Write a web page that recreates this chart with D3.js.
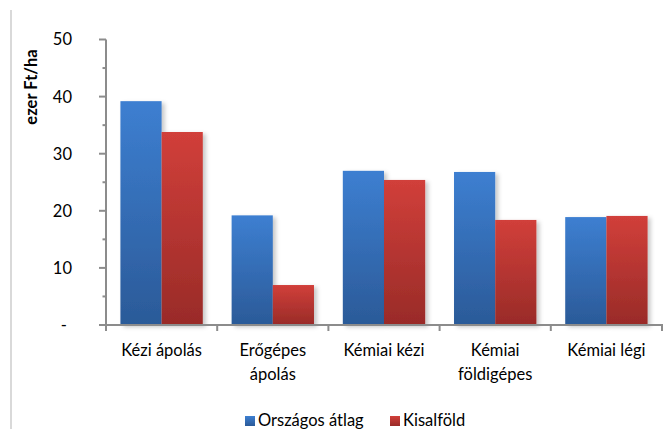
<!DOCTYPE html>
<html><head><meta charset="utf-8">
<script src="https://cdn.jsdelivr.net/npm/d3@7"></script>
<style>body{margin:0;background:#fff}svg{display:block}text{font-family:Lato,"Open Sans",sans-serif;fill:#000}</style>
</head><body>
<svg id="c" width="664" height="429"></svg>
<script>
const categories = [["Kézi ápolás"], ["Erőgépes", "ápolás"], ["Kémiai kézi"], ["Kémiai", "földigépes"], ["Kémiai légi"]];
const seriesNames = ["Országos átlag", "Kisalföld"];
const orszagos = [39.2, 19.2, 27.0, 26.8, 18.9];
const kisalfold = [33.8, 7.0, 25.4, 18.4, 19.1];
const yTicks = [0, 10, 20, 30, 40, 50];
const yTickLabels = ["-", "10", "20", "30", "40", "50"];

const svg = d3.select("#c");
const defs = svg.append("defs");
const grads = [["#3d7fd1", "#2b5a98"], ["#d13f3a", "#992b28"]];
grads.forEach((g, i) => {
  const lg = defs.append("linearGradient").attr("id", "g" + i).attr("x1", 0).attr("y1", 0).attr("x2", 0).attr("y2", 1);
  lg.append("stop").attr("offset", "0%").attr("stop-color", g[0]);
  lg.append("stop").attr("offset", "100%").attr("stop-color", g[1]);
});
const f = defs.append("filter").attr("id", "sh").attr("x", "-20%").attr("y", "-20%").attr("width", "150%").attr("height", "150%");
f.append("feDropShadow").attr("dx", 3).attr("dy", 2).attr("stdDeviation", 2).attr("flood-color", "#000").attr("flood-opacity", 0.22);

// left border line
svg.append("line").attr("x1", 11).attr("x2", 11).attr("y1", 10).attr("y2", 429).attr("stroke", "#d9d9d9").attr("stroke-width", 2);

const x0 = d3.scaleBand().domain(d3.range(categories.length)).range([106, 662]).padding(0);
const x1 = d3.scaleBand().domain(d3.range(seriesNames.length)).range([0, x0.bandwidth()]).paddingInner(0).paddingOuter(0.35);
const y = d3.scaleLinear().domain([0, 50]).range([325, 39.5]);

const data = [orszagos, kisalfold];
const gBars = svg.append("g");
categories.forEach((c, ci) => {
  data.forEach((s, si) => {
    gBars.append("rect")
      .attr("x", x0(ci) + x1(si))
      .attr("y", y(s[ci]))
      .attr("width", x1.bandwidth())
      .attr("height", y(0) - y(s[ci]))
      .attr("fill", `url(#g${si})`)
      .attr("filter", "url(#sh)");
  });
});

const axisColor = "#8c8c8c";
// y axis
const yAxis = d3.axisLeft(y).tickValues(d3.range(0, 51, 5)).tickSize(0).tickFormat("");
const ya = svg.append("g").attr("transform", "translate(106,0)").call(yAxis);
ya.select(".domain").remove();
svg.append("line").attr("x1", 106).attr("x2", 106).attr("y1", y(50)).attr("y2", y(0) + 1).attr("stroke", axisColor).attr("stroke-width", 2);
d3.range(0, 51, 5).forEach(v => {
  const major = v % 10 === 0;
  svg.append("line").attr("x1", major ? 99 : 102.5).attr("x2", 106).attr("y1", y(v)).attr("y2", y(v)).attr("stroke", axisColor).attr("stroke-width", 2);
});
yTicks.forEach((v, i) => {
  svg.append("text").attr("x", v === 0 ? 67 : 72).attr("y", y(v)).attr("dy", "0.36em").attr("text-anchor", "end")
    .style("font-size", "16.5px").text(yTickLabels[i]);
});

// x axis
svg.append("line").attr("x1", 105).attr("x2", 663).attr("y1", y(0)).attr("y2", y(0)).attr("stroke", axisColor).attr("stroke-width", 2);
const xTickPos = d3.range(categories.length + 1).map(i => i < categories.length ? x0(i) : x0(i - 1) + x0.bandwidth());
xTickPos.forEach(px => {
  svg.append("line").attr("x1", px).attr("x2", px).attr("y1", y(0)).attr("y2", y(0) + 6).attr("stroke", axisColor).attr("stroke-width", 2);
});
categories.forEach((lines, ci) => {
  const t = svg.append("text").attr("text-anchor", "middle").style("font-size", "16.5px");
  lines.forEach((ln, li) => {
    t.append("tspan").attr("x", x0(ci) + x0.bandwidth() / 2).attr("y", 356 + li * 24).text(ln);
  });
});

// y label
svg.append("text").attr("transform", "translate(37,87) rotate(-90)").attr("text-anchor", "middle")
  .style("font-size", "16.5px").style("font-weight", "bold").text("ezer Ft/ha");

// legend
const legX = [245, 390];
seriesNames.forEach((n, i) => {
  svg.append("rect").attr("x", legX[i]).attr("y", 416).attr("width", 10).attr("height", 10).attr("fill", `url(#g${i})`);
  svg.append("text").attr("x", legX[i] + 13).attr("y", 426).style("font-size", "16.5px").text(n);
});
</script>
</body></html>
